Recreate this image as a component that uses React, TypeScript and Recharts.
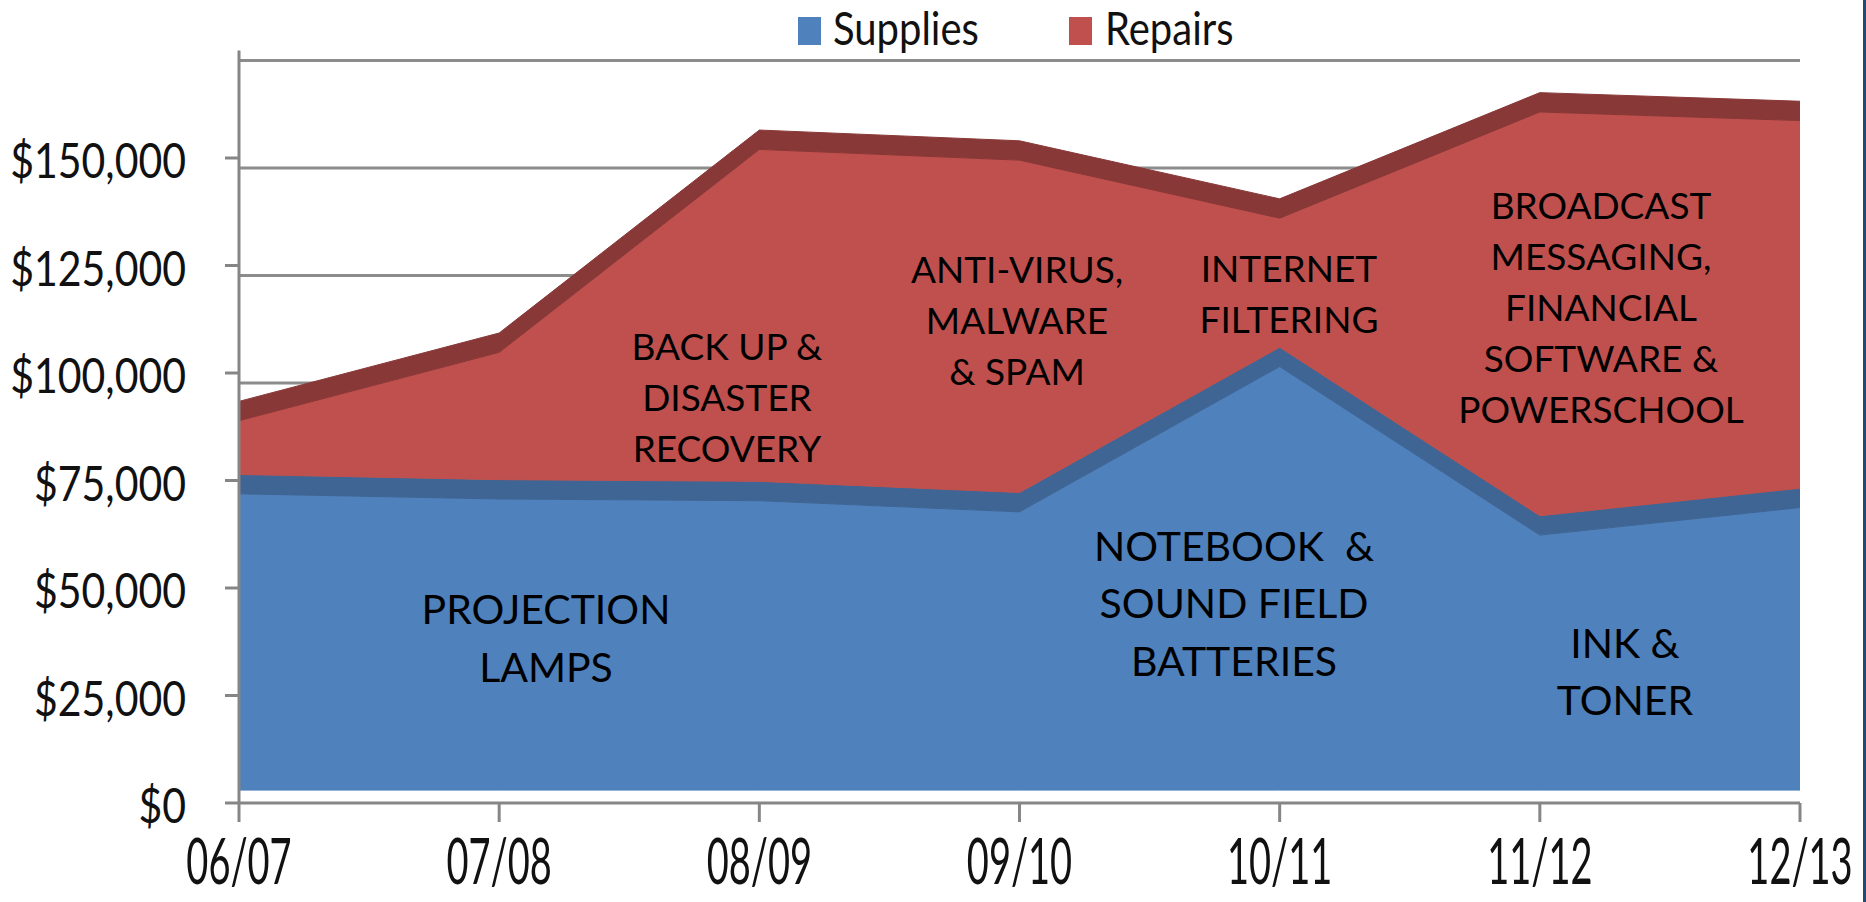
import React from 'react';
import { AreaChart, Area, XAxis, YAxis, CartesianGrid, Legend } from 'recharts';

// ---- data ----
const CATEGORIES = ['06/07', '07/08', '08/09', '09/10', '10/11', '11/12', '12/13'];
const SUPPLIES = [71900, 70700, 70300, 67700, 101500, 62300, 68700];
const REPAIRS = [17000, 34100, 81700, 81800, 34500, 98400, 90000];
const Y_TICKS = [0, 25000, 50000, 75000, 100000, 125000, 150000];
const Y_MAX = 175000;
const GRID_VALUES = [25000, 50000, 75000, 100000, 125000, 150000, 175000];
// 3D look of the original: depth of the ribbon tops and the floor gap
const DEPTH = 4500;
const FLOOR = 3000;

const SERIES = [
  { name: 'Supplies', color: '#4F81BD', band: '#3F6594' },
  { name: 'Repairs', color: '#C0504D', band: '#883837' },
];

const ANNOTATIONS = [
  { lines: ['PROJECTION', 'LAMPS'], x: 546, y: 609, size: 41, gap: 58 },
  { lines: ['NOTEBOOK  &', 'SOUND FIELD', 'BATTERIES'], x: 1234, y: 546, size: 41, gap: 57.5 },
  { lines: ['INK &', 'TONER'], x: 1625, y: 643, size: 41, gap: 57 },
  { lines: ['BACK UP &', 'DISASTER', 'RECOVERY'], x: 727, y: 347, size: 37, gap: 51 },
  { lines: ['ANTI-VIRUS,', 'MALWARE', '& SPAM'], x: 1017, y: 269.5, size: 37, gap: 51 },
  { lines: ['INTERNET', 'FILTERING'], x: 1289, y: 268.5, size: 37, gap: 51.5 },
  { lines: ['BROADCAST', 'MESSAGING,', 'FINANCIAL', 'SOFTWARE &', 'POWERSCHOOL'], x: 1601, y: 205.8, size: 37, gap: 51 },
];

const data = CATEGORIES.map((cat, i) => ({ cat, supplies: SUPPLIES[i], repairs: REPAIRS[i] }));

const AXIS_COLOR = '#868686';
const FONT = 'Lato, "Open Sans", sans-serif';

const fmtMoney = (v: number) => '$' + v.toLocaleString('en-US');

const YTick = (props: any) => {
  const { x, y, payload } = props;
  return (
    <g>
      <line x1={x - 14} x2={x} y1={y} y2={y} stroke={AXIS_COLOR} strokeWidth={3} />
      <text
        transform={`translate(${x - 53},${y + 20}) scale(1,1.18)`}
        textAnchor="end"
        fontFamily={FONT}
        fontSize={41}
        fill="#111"
      >
        {fmtMoney(payload.value)}
      </text>
    </g>
  );
};

const XTick = (props: any) => {
  const { x, y, payload } = props;
  return (
    <g>
      <line x1={x} x2={x} y1={y} y2={y + 19} stroke={AXIS_COLOR} strokeWidth={3} />
      <text
        transform={`translate(${x},${y + 81}) scale(1,1.68)`}
        textAnchor="middle"
        fontFamily={FONT}
        fontSize={38}
        fill="#111"
      >
        {payload.value}
      </text>
    </g>
  );
};

const LegendContent = () => {
  const items = [
    { ...SERIES[0], rx: 798, tx: 833 },
    { ...SERIES[1], rx: 1069, tx: 1105 },
  ];
  return (
    <svg width={1866} height={62} style={{ display: 'block' }}>
      {items.map((it) => (
        <g key={it.name}>
          <rect x={it.rx} y={17} width={23} height={28} fill={it.color} />
          <text
            transform={`translate(${it.tx},45) scale(1,1.15)`}
            fontFamily={FONT}
            fontSize={40}
            fill="#111"
          >
            {it.name}
          </text>
        </g>
      ))}
    </svg>
  );
};

const gridGen = (p: any) => {
  const top = p && p.offset ? p.offset.top : 50.5;
  const h = p && p.offset ? p.offset.height : 752.5;
  return GRID_VALUES.map((v) => top + h * (1 - v / Y_MAX) + 10);
};

export default function App() {
  return (
    <div style={{ position: 'absolute', left: 0, top: 0, width: 1866, height: 902, background: '#fff', overflow: 'hidden' }}>
      <AreaChart width={1866} height={902} data={data} margin={{ top: 50.5, right: 66, bottom: 0, left: 0 }}>
        <CartesianGrid
          vertical={false}
          stroke="#8c8c8c"
          strokeWidth={3}
          horizontalCoordinatesGenerator={gridGen}
        />
        <XAxis
          dataKey="cat"
          height={99}
          interval={0}
          tickSize={0}
          tickMargin={0}
          tickLine={false}
          axisLine={{ stroke: AXIS_COLOR, strokeWidth: 3 }}
          tick={<XTick />}
        />
        <YAxis
          type="number"
          width={239}
          domain={[0, Y_MAX]}
          ticks={Y_TICKS}
          tickSize={0}
          tickMargin={0}
          tickLine={false}
          axisLine={{ stroke: AXIS_COLOR, strokeWidth: 3 }}
          tick={<YTick />}
          allowDataOverflow
        />
        <Legend
          verticalAlign="middle"
          layout="horizontal"
          content={<LegendContent />}
          wrapperStyle={{ position: 'absolute', top: 0, left: 0, width: 1866, height: 62 }}
        />
        <Area
          type="linear"
          name={SERIES[0].name}
          dataKey={(d: any) => [FLOOR, d.supplies]}
          fill={SERIES[0].color}
          stroke={SERIES[0].color}
          strokeWidth={1}
          fillOpacity={1}
          dot={false}
          activeDot={false}
          isAnimationActive={false}
        />
        <Area
          type="linear"
          name="Supplies depth"
          legendType="none"
          dataKey={(d: any) => [d.supplies, d.supplies + DEPTH]}
          fill={SERIES[0].band}
          stroke={SERIES[0].band}
          strokeWidth={1}
          fillOpacity={1}
          dot={false}
          activeDot={false}
          isAnimationActive={false}
        />
        <Area
          type="linear"
          name={SERIES[1].name}
          dataKey={(d: any) => [d.supplies + DEPTH, d.supplies + d.repairs]}
          fill={SERIES[1].color}
          stroke={SERIES[1].color}
          strokeWidth={1}
          fillOpacity={1}
          dot={false}
          activeDot={false}
          isAnimationActive={false}
        />
        <Area
          type="linear"
          name="Repairs depth"
          legendType="none"
          dataKey={(d: any) => [d.supplies + d.repairs, d.supplies + d.repairs + DEPTH]}
          fill={SERIES[1].band}
          stroke={SERIES[1].band}
          strokeWidth={1}
          fillOpacity={1}
          dot={false}
          activeDot={false}
          isAnimationActive={false}
        />
      </AreaChart>
      <svg
        width={1866}
        height={902}
        style={{ position: 'absolute', left: 0, top: 0, pointerEvents: 'none' }}
      >
        {ANNOTATIONS.map((a, i) => (
          <text key={i} textAnchor="middle" fontFamily={FONT} fontSize={a.size} fill="#000">
            {a.lines.map((ln, j) => (
              <tspan key={j} x={a.x} y={a.y + j * a.gap + a.size * 0.358} style={{ whiteSpace: 'pre' }}>
                {ln}
              </tspan>
            ))}
          </text>
        ))}
      </svg>
      <div style={{ position: 'absolute', left: 1863, top: 0, width: 3, height: 902, background: '#244A72' }} />
    </div>
  );
}
